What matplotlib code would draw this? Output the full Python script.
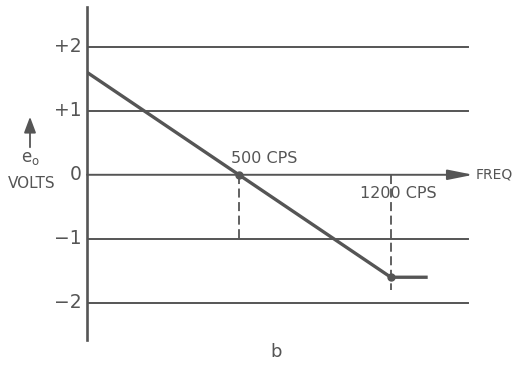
import matplotlib
matplotlib.use("Agg")
import matplotlib.pyplot as plt

# response curve (schematic): frequency in cps, output in volts
freq = [-200, 500, 1200, 1370]
volts = [1.6, 0.0, -1.6, -1.6]
marked_freq = [500, 1200]
marked_volts = [0.0, -1.6]
marked_labels = ["500 CPS", "1200 CPS"]
drop_to = [-1.0, -1.8]
grid_levels = [2, 1, -1, -2]
tick_vals = [2, 1, 0, -1, -2]
tick_labels = ["+2", "+1", "0", "\u22121", "\u22122"]

ink = "#555555"
txt = dict(color=ink, fontweight="medium")

fig = plt.figure(figsize=(5.14, 3.71), dpi=100)
ax = fig.add_axes([87 / 514, 1 - 340 / 371, (470 - 87) / 514, 333 / 371])
ax.set_xlim(-200, 1565)
ax.set_ylim(-2.58, 2.62)
ax.axis("off")

# y axis
ax.plot([-200, -200], [-2.58, 2.62], color=ink, lw=1.9, clip_on=False)

# horizontal reference lines
for lv in grid_levels:
    ax.plot([-200, 1555], [lv, lv], color=ink, lw=1.4)

# zero line with arrow to FREQ
ax.annotate("", xy=(1580, 0), xytext=(-200, 0),
            arrowprops=dict(arrowstyle="-|>,head_length=1.1,head_width=0.22",
                            color=ink, lw=1.4, mutation_scale=14,
                            shrinkA=0, shrinkB=0),
            annotation_clip=False)
ax.text(1592, 0, "FREQ", fontsize=10, va="center", ha="left",
        clip_on=False, **txt)

# tick labels
for v, lab in zip(tick_vals, tick_labels):
    ax.text(-225, v, lab, fontsize=13.5, ha="right", va="center", **txt)

# dashed drop lines
for f, d in zip(marked_freq, drop_to):
    ax.plot([f, f], [0, d], color=ink, lw=1.3, ls=(0, (5, 2.5)))

# response curve
ax.plot(freq, volts, color=ink, lw=2.4, solid_capstyle="butt")
ax.plot(marked_freq, marked_volts, "o", color=ink, ms=5)

ax.text(500 - 35, 0.26, marked_labels[0], fontsize=11.5,
        ha="left", va="center", **txt)
ax.text(1235, -0.3, marked_labels[1], fontsize=11.5,
        ha="center", va="center", **txt)

# y axis caption with arrow
fig.patches.append(matplotlib.patches.FancyArrowPatch(
    (30 / 514, 1 - 150 / 371), (30 / 514, 1 - 114 / 371),
    transform=fig.transFigure, arrowstyle="-|>,head_length=0.8,head_width=0.3",
    mutation_scale=12, color=ink, lw=1.3))
fig.text(30 / 514, 1 - 158 / 371, "e$_\\mathrm{o}$", fontsize=12,
         ha="center", va="center", **txt)
fig.text(32 / 514, 1 - 183 / 371, "VOLTS", fontsize=11,
         ha="center", va="center", **txt)

fig.text(276 / 514, 1 - 352 / 371, "b", fontsize=13,
         ha="center", va="center", **txt)

fig.savefig("out.png", dpi=100, facecolor="white")
